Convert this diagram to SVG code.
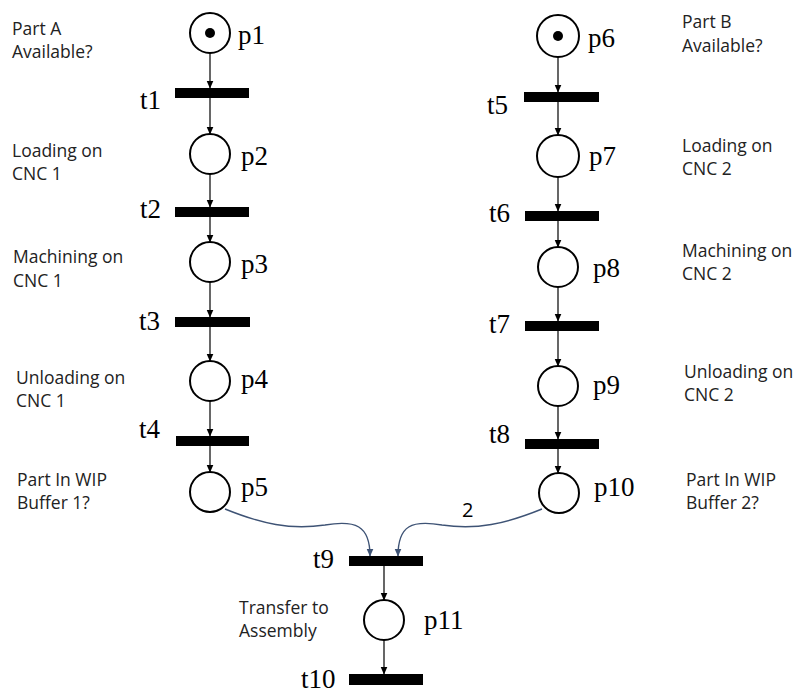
<svg xmlns="http://www.w3.org/2000/svg" width="796" height="693" viewBox="0 0 796 693">
<style>
.place{fill:#fff;stroke:#000;stroke-width:2}
.bar{fill:#000}
.tok{fill:#000}
.lbl{font-family:"Liberation Serif","Times New Roman",serif;font-size:27px;fill:#000}
.desc{font-family:"Open Sans","Liberation Sans",sans-serif;font-size:17.5px;fill:#222}
.arc{fill:none;stroke:#000;stroke-width:1.2;marker-end:url(#ah)}
.arc2{fill:none;stroke:#3e5375;stroke-width:1.4;marker-end:url(#ah2)}
</style>
<defs>
<marker id="ah" markerUnits="userSpaceOnUse" markerWidth="8" markerHeight="9" refX="7.5" refY="3.5" orient="auto"><path d="M0,0 L8,3.5 L0,7 z" fill="#000"/></marker>
<marker id="ah2" markerUnits="userSpaceOnUse" markerWidth="8" markerHeight="9" refX="7.5" refY="3.5" orient="auto"><path d="M0,0 L8,3.5 L0,7 z" fill="#3e5375"/></marker>
</defs>
<rect width="796" height="693" fill="#fff"/>
<g id="connectors">
<line class="arc" x1="210" y1="53" x2="210" y2="88"/>
<line class="arc" x1="210" y1="98" x2="210" y2="134"/>
<line class="arc" x1="210" y1="174" x2="210" y2="207"/>
<line class="arc" x1="210" y1="217" x2="210" y2="242"/>
<line class="arc" x1="210" y1="282" x2="210" y2="317"/>
<line class="arc" x1="210" y1="327" x2="210" y2="361"/>
<line class="arc" x1="210" y1="401" x2="210" y2="436"/>
<line class="arc" x1="210" y1="445" x2="210" y2="472"/>
<line class="arc" x1="558" y1="57" x2="558" y2="92"/>
<line class="arc" x1="558" y1="102" x2="558" y2="135"/>
<line class="arc" x1="558" y1="177" x2="558" y2="211"/>
<line class="arc" x1="558" y1="221" x2="558" y2="247"/>
<line class="arc" x1="558" y1="287" x2="558" y2="321"/>
<line class="arc" x1="558" y1="331" x2="558" y2="366"/>
<line class="arc" x1="558" y1="406" x2="558" y2="439"/>
<line class="arc" x1="558" y1="449" x2="558" y2="473"/>
<line class="arc" x1="384" y1="566" x2="384" y2="600"/>
<line class="arc" x1="384" y1="640" x2="384" y2="674"/>
<path class="arc2" d="M225,509 C262,524 290,530 325,525 C355,520 370,525 370,556"/>
<path class="arc2" d="M542,509 C505,524 477,530 442,525 C412,520 398,525 398,556"/>
<text x="462" y="517" class="desc" style="font-size:20px;fill:#000">2</text>
</g>
<g id="p1"><circle class="place" cx="210" cy="33" r="20"/><circle class="tok" cx="210" cy="33" r="5"/><text class="lbl" x="238" y="44">p1</text></g>
<g id="p2"><circle class="place" cx="210" cy="154" r="20"/><text class="lbl" x="241" y="165">p2</text></g>
<g id="p3"><circle class="place" cx="210" cy="262" r="20"/><text class="lbl" x="241" y="273">p3</text></g>
<g id="p4"><circle class="place" cx="210" cy="381" r="20"/><text class="lbl" x="241" y="388">p4</text></g>
<g id="p5"><circle class="place" cx="210" cy="492" r="20"/><text class="lbl" x="241" y="496">p5</text></g>
<g id="p6"><circle class="place" cx="558" cy="36" r="21"/><circle class="tok" cx="558" cy="36" r="5"/><text class="lbl" x="588" y="47">p6</text></g>
<g id="p7"><circle class="place" cx="558" cy="156" r="21"/><text class="lbl" x="589" y="165">p7</text></g>
<g id="p8"><circle class="place" cx="558" cy="267" r="20"/><text class="lbl" x="593" y="277">p8</text></g>
<g id="p9"><circle class="place" cx="558" cy="386" r="20"/><text class="lbl" x="593" y="394">p9</text></g>
<g id="p10"><circle class="place" cx="559" cy="493" r="20"/><text class="lbl" x="594" y="496">p10</text></g>
<g id="p11"><circle class="place" cx="384" cy="620" r="20"/><text class="lbl" x="424" y="629">p11</text></g>
<g id="t1"><rect class="bar" x="175" y="88" width="74" height="10"/><text class="lbl" x="140" y="109">t1</text></g>
<g id="t2"><rect class="bar" x="175" y="207" width="74" height="10"/><text class="lbl" x="140" y="218">t2</text></g>
<g id="t3"><rect class="bar" x="175" y="317" width="75" height="10"/><text class="lbl" x="139" y="330">t3</text></g>
<g id="t4"><rect class="bar" x="176" y="436" width="73" height="10"/><text class="lbl" x="139" y="438">t4</text></g>
<g id="t5"><rect class="bar" x="524" y="92" width="75" height="10"/><text class="lbl" x="487" y="114">t5</text></g>
<g id="t6"><rect class="bar" x="525" y="211" width="74" height="10"/><text class="lbl" x="489" y="222">t6</text></g>
<g id="t7"><rect class="bar" x="525" y="321" width="74" height="10"/><text class="lbl" x="489" y="333">t7</text></g>
<g id="t8"><rect class="bar" x="525" y="439" width="74" height="10"/><text class="lbl" x="489" y="443">t8</text></g>
<g id="t9"><rect class="bar" x="349" y="556" width="74" height="10"/><text class="lbl" x="313" y="568">t9</text></g>
<g id="t10"><rect class="bar" x="349" y="674" width="74" height="11"/><text class="lbl" x="301" y="688">t10</text></g>
<g id="labels">
<text class="desc" x="12" y="35">Part A</text>
<text class="desc" x="12" y="58">Available?</text>
<text class="desc" x="12" y="157">Loading on</text>
<text class="desc" x="12" y="180">CNC 1</text>
<text class="desc" x="13" y="263">Machining on</text>
<text class="desc" x="13" y="287">CNC 1</text>
<text class="desc" x="16" y="384">Unloading on</text>
<text class="desc" x="16" y="407">CNC 1</text>
<text class="desc" x="17" y="486">Part In WIP</text>
<text class="desc" x="17" y="509">Buffer 1?</text>
<text class="desc" x="682" y="28">Part B</text>
<text class="desc" x="682" y="52">Available?</text>
<text class="desc" x="682" y="152">Loading on</text>
<text class="desc" x="682" y="175">CNC 2</text>
<text class="desc" x="682" y="257">Machining on</text>
<text class="desc" x="682" y="280">CNC 2</text>
<text class="desc" x="684" y="378">Unloading on</text>
<text class="desc" x="684" y="401">CNC 2</text>
<text class="desc" x="686" y="486">Part In WIP</text>
<text class="desc" x="686" y="509">Buffer 2?</text>
<text class="desc" x="239" y="614">Transfer to</text>
<text class="desc" x="239" y="637">Assembly</text>
</g>
</svg>
